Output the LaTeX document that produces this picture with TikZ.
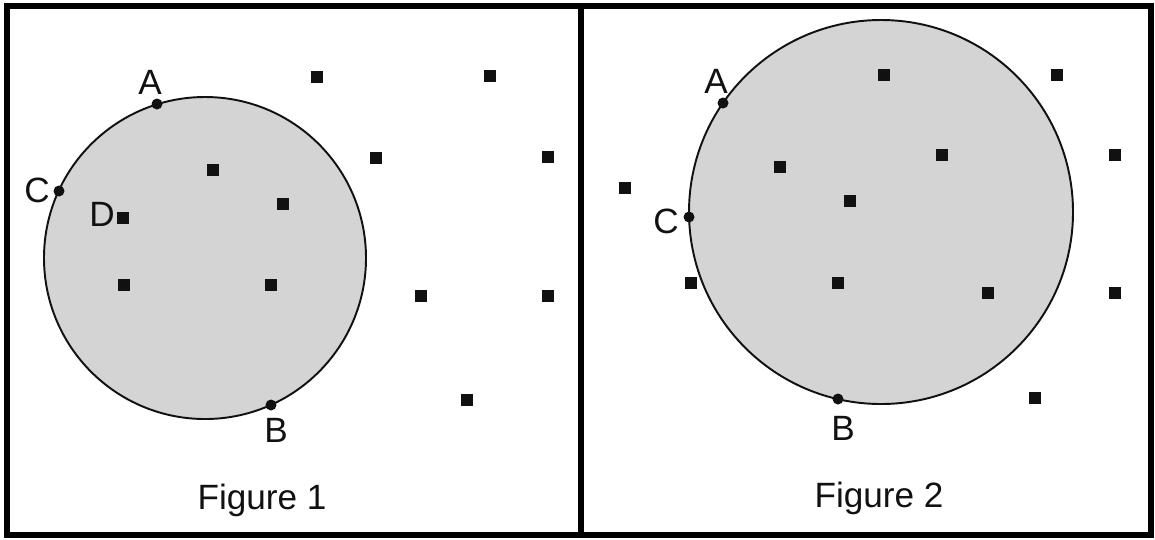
\documentclass[tikz,border=0pt]{standalone}
\usepackage{fontspec}
\setsansfont{Liberation Sans}
\usetikzlibrary{positioning}
\definecolor{cshade}{HTML}{D4D4D4}
\definecolor{cink}{HTML}{111111}
\tikzset{
  every picture/.style={font=\sffamily\fontsize{20}{24}\selectfont, line width=1.1pt},
  panel/.style={draw=black, line width=3.7pt},
  disc/.style={draw=cink, fill=cshade, line width=1.1pt},
  pdot/.style={circle, fill=cink, inner sep=0pt, minimum size=0.22cm},
  sq/.style={rectangle, fill=cink, inner sep=0pt, minimum size=0.24cm},
  letter/.style={inner sep=0pt, text=cink},
  caption/.style={inner sep=0pt, anchor=base, text=cink},
}

\begin{document}
\begin{tikzpicture}[x=0.02cm, y=-0.02cm]
  \useasboundingbox (0,0) rectangle (1155,539);
  % frames
  \draw[panel] (7,6) rectangle (1151,535);
  \draw[panel] (581,6) -- (581,535);
  % figure 1
  \draw[disc] (205,258) circle (161);
  \foreach \x/\y [count=\i] in {317/77, 490/76, 213/170, 376/158, 548/157, 283/204,
      124/285, 271/285, 421/296, 548/296, 467/400}
    \node[sq] (p-\i) at (\x,\y) {};
  \node[sq] (d1) at (123,218) {};
  \node[pdot] (a1) at (157,104) {};
  \node[pdot] (c1) at (59,191) {};
  \node[pdot] (b1) at (271,405) {};
  \node[letter] (la1) at (150,82) {A};
  \node[letter] (lc1) at (37,190) {C};
  \node[letter] (ld1) at (102,214) {D};
  \node[letter] (lb1) at (276,430) {B};
  \node[caption] (fig1) at (262,509) {Figure 1};
  % figure 2
  \draw[disc] (881,212) circle (192);
  \foreach \x/\y [count=\i] in {884/75, 1057/75, 780/167, 942/155, 1115/155, 625/188,
      850/201, 691/283, 838/283, 988/293, 1115/293, 1035/398}
    \node[sq] (q-\i) at (\x,\y) {};
  \node[pdot] (a2) at (723,103) {};
  \node[pdot] (c2) at (689,217) {};
  \node[pdot] (b2) at (838,399) {};
  \node[letter] (la2) at (716,81) {A};
  \node[letter] (lc2) at (666,221) {C};
  \node[letter] (lb2) at (843,428) {B};
  \node[caption] (fig2) at (879,507) {Figure 2};
\end{tikzpicture}
\end{document}
